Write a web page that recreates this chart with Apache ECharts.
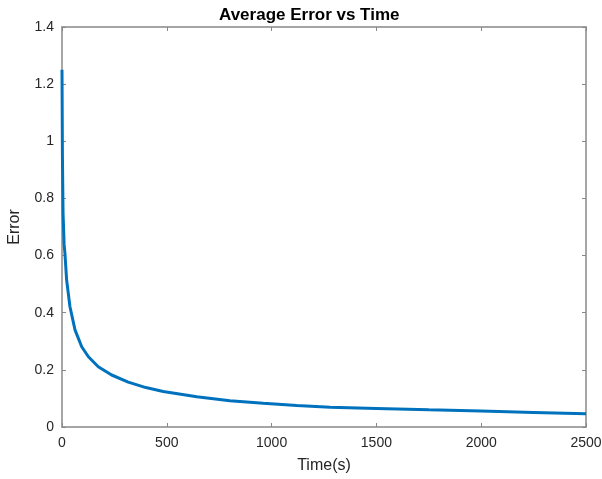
<!DOCTYPE html>
<html>
<head>
<meta charset="utf-8">
<script src="https://cdn.jsdelivr.net/npm/echarts@6/dist/echarts.min.js"></script>
<style>
  html, body { margin: 0; padding: 0; background: #fff; }
  #main { width: 602px; height: 479px; }
</style>
</head>
<body>
<div id="main"></div>
<script>
// time (s) and average error
const times = [0, 2, 5, 10, 14, 22, 38, 62, 94, 126, 173, 237, 316, 400, 483, 643, 801, 960, 1120, 1279, 1500, 1750, 2000, 2250, 2500];
const errors = [1.25, 0.95, 0.75, 0.64, 0.608, 0.515, 0.421, 0.34, 0.281, 0.246, 0.211, 0.182, 0.157, 0.138, 0.124, 0.106, 0.092, 0.083, 0.075, 0.069, 0.065, 0.060, 0.056, 0.051, 0.046];

const axisColor = '#888';
const textColor = '#262626';
const font = 'Liberation Sans, Arial, sans-serif';

const myChart = echarts.init(document.getElementById('main'));

const axisLine = { show: true, onZero: false, lineStyle: { color: axisColor, width: 1.5 } };
const axisTick = { show: true, inside: true, length: 4, lineStyle: { color: axisColor } };

// box around the plot: top/right axes only draw lines and ticks
const boxAxis = {
  axisLine: axisLine,
  axisTick: axisTick,
  axisLabel: { show: false },
  splitLine: { show: false },
};

const option = {
  animation: false,
  title: {
    text: 'Average Error vs Time',
    left: 214,
    top: 2,
    textStyle: { fontFamily: font, fontSize: 17, fontWeight: 'bold', color: '#000' },
  },
  grid: { left: 62, right: 16, top: 27, bottom: 52, outerBoundsMode: 'none' },
  xAxis: [
    {
      type: 'value',
      min: 0,
      max: 2500,
      interval: 500,
      name: 'Time(s)',
      nameLocation: 'middle',
      nameGap: 31,
      nameTextStyle: { fontFamily: font, fontSize: 16, color: textColor },
      axisLine: axisLine,
      axisTick: axisTick,
      axisLabel: {
        fontFamily: font,
        fontSize: 14,
        color: textColor,
        margin: 9,
        showMaxLabel: true,
        formatter: v => String(v),
      },
      splitLine: { show: false },
    },
    Object.assign({ type: 'value', position: 'top', min: 0, max: 2500, interval: 500 }, boxAxis),
  ],
  yAxis: [
    {
      type: 'value',
      min: 0,
      max: 1.4,
      interval: 0.2,
      name: 'Error',
      nameLocation: 'middle',
      nameGap: 39,
      nameTextStyle: { fontFamily: font, fontSize: 16, color: textColor },
      axisLine: axisLine,
      axisTick: axisTick,
      axisLabel: {
        fontFamily: font,
        fontSize: 14,
        color: textColor,
        margin: 8,
        formatter: v => String(+v.toFixed(1)),
      },
      splitLine: { show: false },
    },
    Object.assign({ type: 'value', position: 'right', min: 0, max: 1.4, interval: 0.2 }, boxAxis),
  ],
  series: [
    {
      type: 'line',
      data: times.map((t, i) => [t, errors[i]]),
      showSymbol: false,
      smooth: false,
      lineStyle: { color: '#0072BD', width: 3 },
      itemStyle: { color: '#0072BD' },
    },
  ],
};

myChart.setOption(option);
</script>
</body>
</html>
